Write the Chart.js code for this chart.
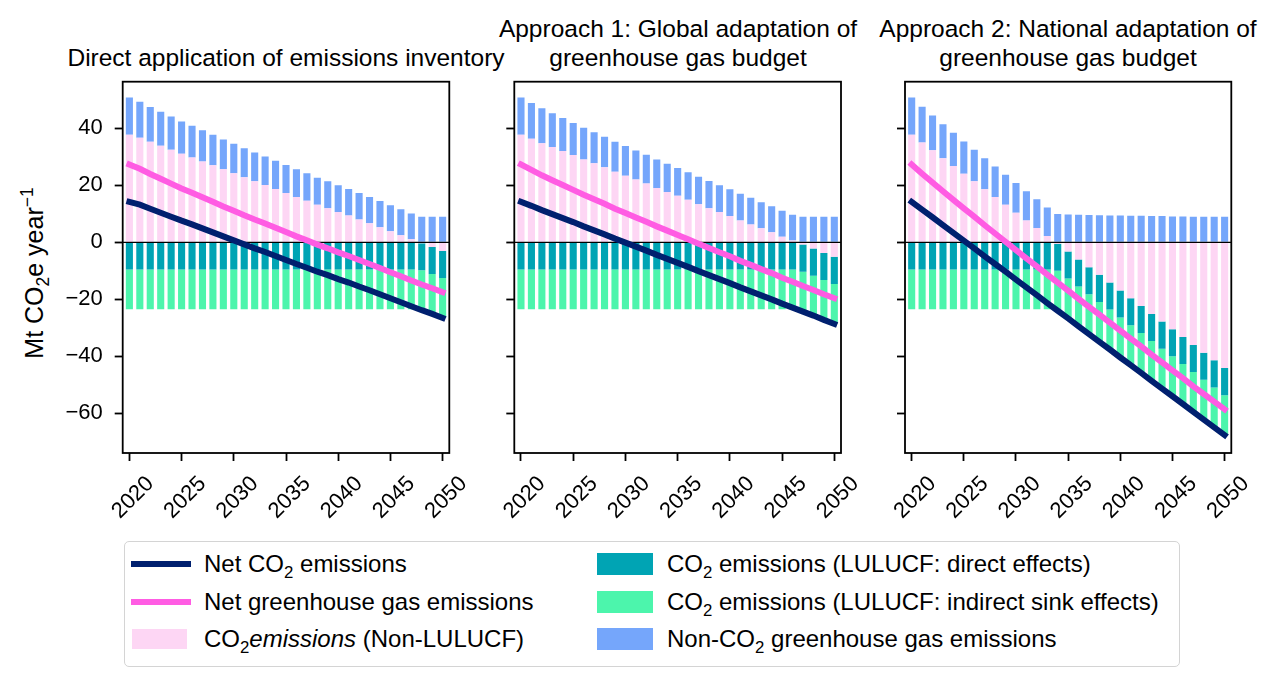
<!DOCTYPE html>
<html>
<head>
<meta charset="utf-8">
<script src="https://cdn.jsdelivr.net/npm/chart.js@4.4.1/dist/chart.umd.min.js"></script>
<style>
  body { margin: 0; background: #fff; width: 1280px; height: 687px; position: relative; overflow: hidden;
         font-family: 'Liberation Sans', Arial, sans-serif; color: #000; }
  canvas { position: absolute; top: 0; }
  .title { position: absolute; width: 560px; text-align: center; font-size: 24.5px; line-height: 29px; white-space: nowrap; }
  .ylab { position: absolute; font-size: 25px; white-space: nowrap; transform: translate(-50%, -50%) rotate(-90deg); }
  .legend { position: absolute; left: 124px; top: 541px; width: 1054px; height: 124px;
            border: 1.5px solid #d4d4d4; border-radius: 5px; font-size: 24px; }
  .item { position: absolute; height: 30px; line-height: 30px; white-space: nowrap; }
  .item .h { position: absolute; }
  .item span.t { position: absolute; }
  sub, sup { font-size: 70%; line-height: 0; }
</style>
</head>
<body>
<div class="title" style="left:6px; top:43px;">Direct application of emissions inventory</div>
<div class="title" style="left:398px; top:14px;">Approach 1: Global adaptation of<br>greenhouse gas budget</div>
<div class="title" style="left:788px; top:14px;">Approach 2: National adaptation of<br>greenhouse gas budget</div>
<div class="ylab" style="left:34px; top:273px;">Mt CO<sub>2</sub>e year<sup>−1</sup></div>

<canvas id="c1" width="480" height="540" style="left:0px;"></canvas>
<canvas id="c2" width="380" height="540" style="left:490px;"></canvas>
<canvas id="c3" width="400" height="540" style="left:880px;"></canvas>

<div class="legend">
  <div class="item" style="left:0; top:7px;"><div class="h" style="left:6px; top:12px; width:60px; height:6px; background:#00206f;"></div><span class="t" style="left:79px;">Net CO<sub>2</sub> emissions</span></div>
  <div class="item" style="left:0; top:45px;"><div class="h" style="left:6px; top:12px; width:60px; height:6px; background:#ff5ce3;"></div><span class="t" style="left:79px;">Net greenhouse gas emissions</span></div>
  <div class="item" style="left:0; top:82px;"><div class="h" style="left:7px; top:5px; width:55px; height:20px; background:#fdd6f4;"></div><span class="t" style="left:79px;">CO<sub>2</sub><i>emissions</i> (Non-LULUCF)</span></div>
  <div class="item" style="left:0; top:7px;"><div class="h" style="left:472px; top:4px; width:56px; height:22px; background:#00a4b4;"></div><span class="t" style="left:542px;">CO<sub>2</sub> emissions (LULUCF: direct effects)</span></div>
  <div class="item" style="left:0; top:45px;"><div class="h" style="left:472px; top:4px; width:56px; height:22px; background:#4cf5ac;"></div><span class="t" style="left:542px;">CO<sub>2</sub> emissions (LULUCF: indirect sink effects)</span></div>
  <div class="item" style="left:0; top:82px;"><div class="h" style="left:472px; top:4px; width:56px; height:22px; background:#75a6fb;"></div><span class="t" style="left:542px;">Non-CO<sub>2</sub> greenhouse gas emissions</span></div>
</div>

<script>
const years = [2020, 2021, 2022, 2023, 2024, 2025, 2026, 2027, 2028, 2029, 2030,
  2031, 2032, 2033, 2034, 2035, 2036, 2037, 2038, 2039, 2040,
  2041, 2042, 2043, 2044, 2045, 2046, 2047, 2048, 2049, 2050];
const yTicks = [-60, -40, -20, 0, 20, 40];

// shared by all three panels
const nonCo2 = [13.1, 12.6, 12.2, 11.9, 11.6, 11.3, 11.1, 10.9, 10.7, 10.5, 10.4,
  10.2, 10.1, 10.0, 9.9, 9.8, 9.7, 9.6, 9.5, 9.4, 9.4,
  9.3, 9.3, 9.2, 9.2, 9.1, 9.1, 9.0, 9.0, 9.0, 9.0];
const luDirect = [-9.5, -9.5, -9.5, -9.5, -9.5, -9.5, -9.5, -9.5, -9.5, -9.5, -9.5,
  -9.5, -9.5, -9.5, -9.5, -9.5, -9.5, -9.5, -9.5, -9.5, -9.5,
  -9.5, -9.5, -9.5, -9.5, -9.5, -9.5, -9.5, -9.5, -9.5, -9.5];
const luIndirect = [-14, -14, -14, -14, -14, -14, -14, -14, -14, -14, -14,
  -14, -14, -14, -14, -14, -14, -14, -14, -14, -14,
  -14, -14, -14, -14, -14, -14, -14, -14, -14, -14];

// direct application of inventory
const co2Inv = [37.7, 36.7, 35.3, 33.9, 32.5, 31.1, 29.8, 28.4, 27.0, 25.6, 24.2,
  22.8, 21.4, 20.1, 18.7, 17.3, 15.9, 14.6, 13.2, 12.0, 10.6,
  9.4, 8.0, 6.7, 5.3, 3.9, 2.5, 1.1, -0.3, -1.6, -3.0];
const netCo2Inv = [14.2, 13.2, 11.8, 10.4, 9.0, 7.6, 6.3, 4.9, 3.5, 2.1, 0.7,
  -0.7, -2.1, -3.4, -4.8, -6.2, -7.6, -8.9, -10.3, -11.5, -12.9,
  -14.1, -15.5, -16.8, -18.2, -19.6, -21.0, -22.4, -23.8, -25.1, -26.5];
const netGhgInv = [27.3, 25.8, 24.0, 22.3, 20.6, 18.9, 17.4, 15.8, 14.2, 12.6, 11.1,
  9.5, 8.0, 6.6, 5.1, 3.6, 2.1, 0.7, -0.8, -2.1, -3.5,
  -4.8, -6.2, -7.6, -9.0, -10.5, -11.9, -13.4, -14.8, -16.1, -17.5];

// approach 1: global adaptation
const co2Glob = [37.7, 36.3, 34.8, 33.4, 32.0, 30.6, 29.1, 27.7, 26.3, 24.8, 23.4,
  22.0, 20.6, 19.1, 17.7, 16.3, 14.9, 13.4, 12.0, 10.6, 9.2,
  7.7, 6.3, 4.9, 3.5, 2.0, 0.6, -0.8, -2.2, -3.7, -5.1];
const netCo2Glob = [14.2, 12.8, 11.3, 9.9, 8.5, 7.1, 5.6, 4.2, 2.8, 1.3, -0.1,
  -1.5, -2.9, -4.4, -5.8, -7.2, -8.6, -10.1, -11.5, -12.9, -14.3,
  -15.8, -17.2, -18.6, -20.0, -21.5, -22.9, -24.3, -25.7, -27.2, -28.6];
const netGhgGlob = [27.3, 25.4, 23.5, 21.8, 20.1, 18.4, 16.7, 15.1, 13.5, 11.8, 10.3,
  8.7, 7.2, 5.6, 4.1, 2.6, 1.1, -0.5, -2.0, -3.5, -4.9,
  -6.5, -7.9, -9.4, -10.8, -12.4, -13.8, -15.3, -16.7, -18.2, -19.6];

// approach 2: national adaptation
const co2Nat = [37.7, 35.0, 32.3, 29.5, 26.8, 24.1, 21.4, 18.6, 15.9, 13.2, 10.4,
  7.7, 5.0, 2.2, -0.5, -3.2, -6.0, -8.7, -11.4, -14.1, -16.9,
  -19.6, -22.3, -25.1, -27.8, -30.5, -33.2, -36.0, -38.7, -41.4, -44.1];
const netCo2Nat = [14.2, 11.5, 8.8, 6.0, 3.3, 0.6, -2.1, -4.9, -7.6, -10.3, -13.1,
  -15.8, -18.5, -21.3, -24.0, -26.7, -29.5, -32.2, -34.9, -37.6, -40.4,
  -43.1, -45.8, -48.6, -51.3, -54.0, -56.7, -59.5, -62.2, -64.9, -67.6];
const netGhgNat = [27.3, 24.1, 21.0, 17.9, 14.9, 11.9, 9.0, 6.0, 3.1, 0.2, -2.7,
  -5.6, -8.4, -11.3, -14.1, -16.9, -19.8, -22.6, -25.4, -28.2, -31.0,
  -33.8, -36.5, -39.4, -42.1, -44.9, -47.6, -50.5, -53.2, -55.9, -58.6];

Chart.defaults.font.family = "'Liberation Sans', Arial, sans-serif";
Chart.defaults.color = '#000';

function drawZero(chart) {
  const { ctx, chartArea } = chart;
  const y0 = chart.scales.y.getPixelForValue(0);
  ctx.save();
  ctx.strokeStyle = '#000';
  ctx.lineWidth = 1.3;
  ctx.beginPath();
  ctx.moveTo(chartArea.left, y0);
  ctx.lineTo(chartArea.right, y0);
  ctx.stroke();
  ctx.restore();
}

const framePlugin = {
  id: 'frame',
  beforeDatasetsDraw(chart) { chart.$zeroDone = false; },
  beforeDatasetDraw(chart, args) {
    if (!chart.$zeroDone && args.meta.type === 'line') {
      drawZero(chart);
      chart.$zeroDone = true;
    }
  },
  afterDatasetsDraw(chart) {
    if (!chart.$zeroDone) drawZero(chart);
  },
  afterDraw(chart) {
    const { ctx, chartArea } = chart;
    ctx.save();
    ctx.strokeStyle = '#000';
    ctx.lineWidth = 1.8;
    ctx.strokeRect(chartArea.left, chartArea.top, chartArea.right - chartArea.left, chartArea.bottom - chartArea.top);
    ctx.restore();
  }
};

function makePanel(id, co2, netCo2, netGhg, yWidth, rightPad, showY) {
  const bar = (label, data, color) => ({
    type: 'bar', label, data, backgroundColor: color, borderWidth: 0,
    stack: 'bars', order: 1, barPercentage: 0.68, categoryPercentage: 1
  });
  const line = (label, data, color, stack) => ({
    type: 'line', label, data, borderColor: color, borderWidth: 6, pointRadius: 0,
    fill: false, tension: 0, stack, order: 0, borderCapStyle: 'square'
  });

  return new Chart(document.getElementById(id), {
    type: 'bar',
    data: {
      labels: years,
      datasets: [
        bar('CO2 emissions (Non-LULUCF)', co2, '#fdd6f4'),
        bar('CO2 emissions (LULUCF: direct effects)', luDirect, '#00a4b4'),
        bar('CO2 emissions (LULUCF: indirect sink effects)', luIndirect, '#4cf5ac'),
        bar('Non-CO2 greenhouse gas emissions', nonCo2, '#75a6fb'),
        line('Net greenhouse gas emissions', netGhg, '#ff5ce3', 'ghg'),
        line('Net CO2 emissions', netCo2, '#00206f', 'co2')
      ]
    },
    options: {
      responsive: false,
      animation: false,
      layout: { padding: { top: 81.7, right: rightPad, left: 0, bottom: 0 } },
      plugins: { legend: { display: false }, tooltip: { enabled: false } },
      scales: {
        x: {
          type: 'linear', min: 2019.36, max: 2050.64, stacked: true,
          offset: false,
          ticks: {
            stepSize: 5, includeBounds: false, maxRotation: 45, minRotation: 45,
            labelOffset: 21, padding: 10, font: { size: 22 }, color: '#000',
            callback: v => String(v)
          },
          grid: { offset: false, drawOnChartArea: false, tickLength: 8, tickWidth: 1.8, tickColor: '#000' },
          border: { display: false },
          afterFit: s => { s.height = 540 - 453; s.paddingLeft = 0; s.paddingRight = 0; }
        },
        y: {
          stacked: true, min: -73.9, max: 56.35,
          afterBuildTicks: s => { s.ticks = yTicks.map(v => ({ value: v })); },
          ticks: {
            display: showY, padding: 12, font: { size: 22 }, color: '#000',
            callback: v => String(v).replace('-', '\u2212')
          },
          grid: { drawOnChartArea: false, tickLength: 8, tickWidth: 1.8, tickColor: '#000' },
          border: { display: false },
          afterFit: s => { s.width = yWidth; s.paddingTop = 0; s.paddingBottom = 0; }
        }
      }
    },
    plugins: [framePlugin]
  });
}

makePanel('c1', co2Inv, netCo2Inv, netGhgInv, 122.7, 480 - 449.3, true);
makePanel('c2', co2Glob, netCo2Glob, netGhgGlob, 24.3, 380 - 351, false);
makePanel('c3', co2Nat, netCo2Nat, netGhgNat, 25, 400 - 351.3, false);
</script>
</body>
</html>
